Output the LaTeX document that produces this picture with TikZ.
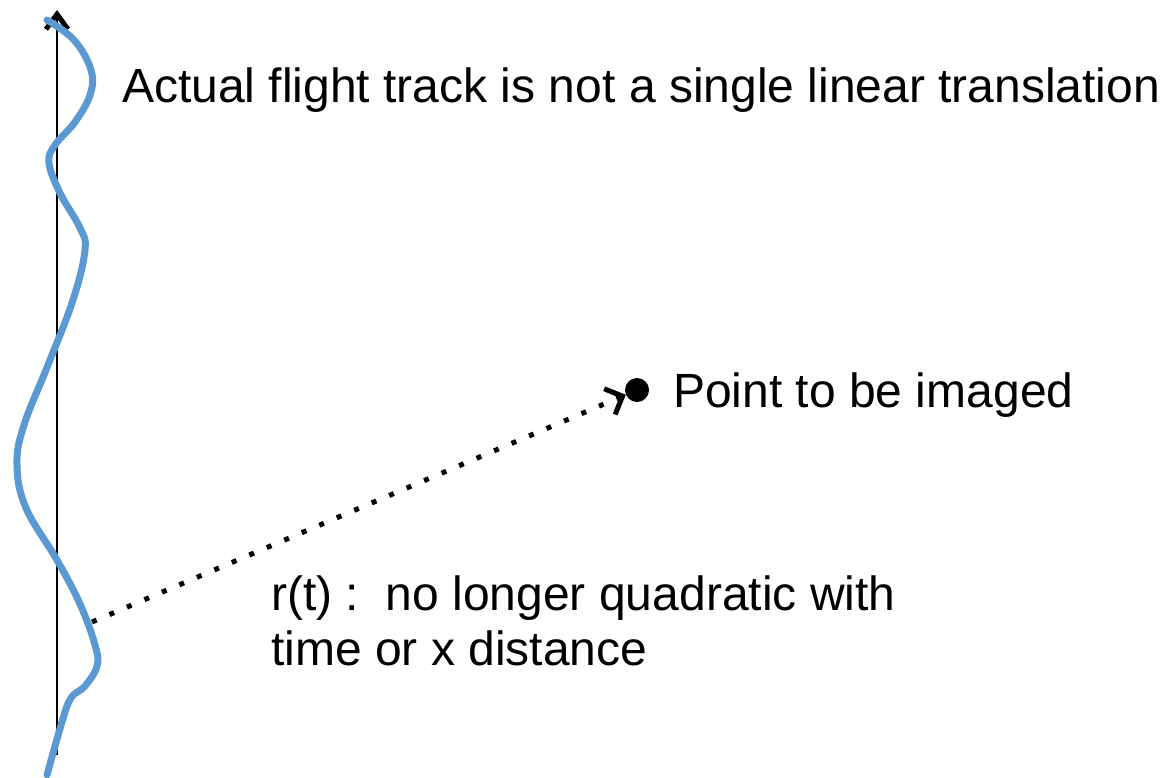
\documentclass[tikz,border=0pt]{standalone}
\usepackage{fontspec}
\setmainfont{Liberation Sans}
\usetikzlibrary{arrows.meta}
\definecolor{track}{RGB}{91,153,210}
\begin{document}
\begin{tikzpicture}[x=1pt,y=-1pt,
  lbl/.style={anchor=base west, inner sep=0pt, font=\fontsize{48}{55}\selectfont},
  trackline/.style={draw=track, line width=7pt, line cap=round, line join=round},
  axisline/.style={line width=2pt, -{Straight Barb[length=15pt,width=22pt,line width=5pt]}},
  rayline/.style={line width=5pt, dash pattern=on 5pt off 14pt, -{Straight Barb[length=14pt,width=28pt,line width=5pt]}},
  target/.style={circle, fill=black, inner sep=0pt, minimum size=24pt}]
\useasboundingbox (0,0) rectangle (1164,778);
\coordinate (axb) at (57,755);
\coordinate (axt) at (57,10);
\draw[axisline] (axb) -- (axt);
\draw[trackline] plot[smooth, tension=0.65] coordinates {(47,20) (74,40) (91,70) (90,95) (75,122) (55,145) (49,163) (60,193) (80,228) (85,250) (73,300) (48,365) (24,425) (17,465) (26,508) (57,560) (80,604) (95,645) (97,666) (85,686) (71,698) (62,722) (47,775)};
\coordinate (s) at (92,622);
\node[target] (pt) at (637,390) {};
\draw[rayline] (s) -- (pt);
\node[lbl] (t1) at (122,103) {Actual flight track is not a single linear translation};
\node[lbl] (t2) at (673,407) {Point to be imaged};
\node[lbl] (t3) at (271,610) {r(t) :\ \ no longer quadratic with};
\node[lbl] (t4) at (271,665) {time or x distance};
\end{tikzpicture}
\end{document}
